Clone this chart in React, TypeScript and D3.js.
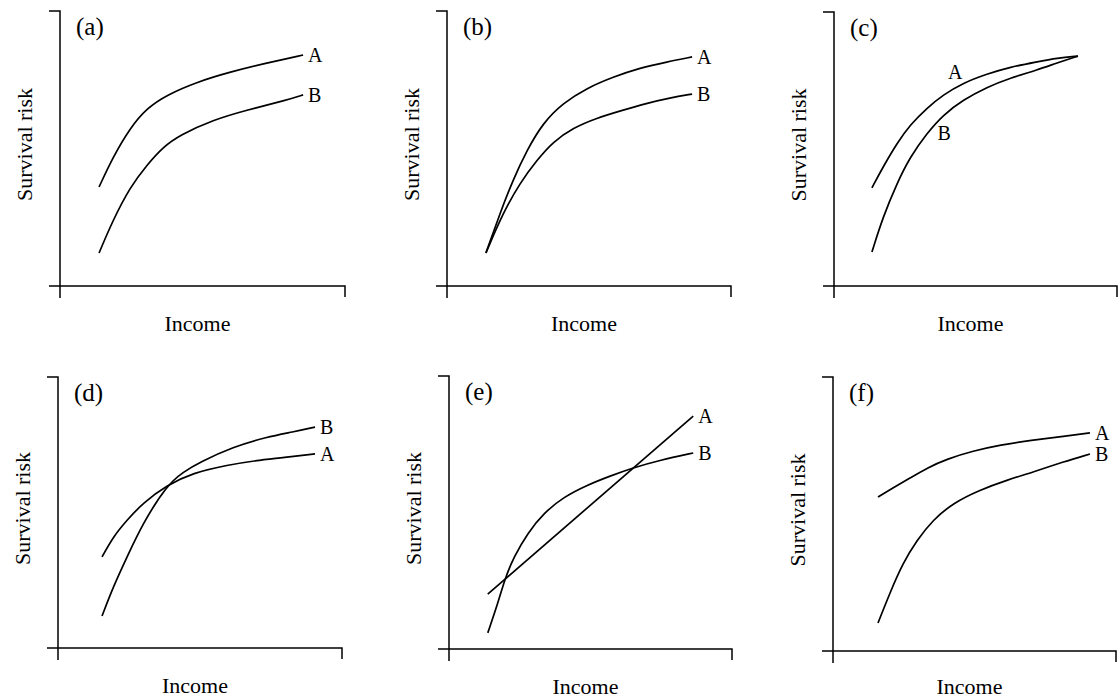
import * as d3 from "d3";

const panelLetters = ["(a)", "(b)", "(c)", "(d)", "(e)", "(f)"];
const seriesNames = ["A", "B"];
const xTitle = "Income";
const yTitle = "Survival risk";

// readings: [income, survival risk], both axes 0..10
const aA = [[1.37, 3.6], [1.86, 4.69], [2.46, 5.75], [3.05, 6.47], [3.75, 6.95], [4.81, 7.42], [5.96, 7.78], [7.26, 8.11], [8.53, 8.4]];
const aB = [[1.37, 1.2], [1.86, 2.4], [2.46, 3.6], [3.05, 4.4], [3.61, 5.05], [4.21, 5.49], [5.37, 6.04], [6.56, 6.4], [7.96, 6.76], [8.53, 6.95]];

const bA = [[1.37, 1.2], [1.87, 2.65], [2.32, 3.85], [2.82, 4.95], [3.38, 5.93], [4.08, 6.65], [4.93, 7.2], [5.85, 7.6], [6.8, 7.93], [7.75, 8.15], [8.63, 8.33]];
const bB = [[1.37, 1.2], [1.97, 2.65], [2.57, 3.75], [3.17, 4.58], [3.73, 5.24], [4.44, 5.75], [5.28, 6.11], [6.09, 6.36], [7.04, 6.65], [7.85, 6.84], [8.63, 6.98]];

const cA = [[1.34, 3.58], [1.73, 4.34], [2.23, 5.22], [2.69, 5.88], [3.29, 6.5], [3.85, 6.97], [4.56, 7.41], [5.41, 7.74], [6.22, 7.99], [7.17, 8.18], [7.88, 8.32], [8.62, 8.39]];
const cB = [[1.34, 1.24], [1.73, 2.52], [2.23, 3.76], [2.69, 4.71], [3.29, 5.58], [3.85, 6.24], [4.56, 6.79], [5.41, 7.26], [6.22, 7.59], [7.17, 7.88], [7.88, 8.14], [8.62, 8.39]];

const dA = [[1.55, 3.36], [1.94, 4.1], [2.43, 4.72], [2.99, 5.35], [3.84, 6.01], [4.75, 6.46], [5.95, 6.75], [7.11, 6.94], [8.17, 7.05], [9.05, 7.16]];
const dB = [[1.55, 1.18], [1.94, 2.25], [2.43, 3.36], [2.99, 4.61], [3.84, 6.01], [4.4, 6.49], [5.0, 6.86], [6.16, 7.42], [7.36, 7.79], [8.27, 7.97], [9.05, 8.15]];

const eA = [[1.37, 2.01], [8.63, 8.53]];
const eB = [[1.37, 0.59], [1.73, 1.68], [1.97, 2.56], [2.29, 3.37], [2.78, 4.25], [3.35, 4.98], [4.05, 5.57], [4.89, 6.01], [5.7, 6.34], [6.48, 6.63], [7.46, 6.92], [8.63, 7.18]];

const fA = [[1.59, 5.62], [2.12, 5.95], [2.72, 6.31], [3.32, 6.68], [4.03, 7.01], [4.95, 7.3], [5.9, 7.52], [7.07, 7.7], [8.27, 7.85], [9.08, 7.96]];
const fB = [[1.59, 1.02], [2.01, 2.12], [2.47, 3.21], [2.97, 4.05], [3.53, 4.78], [4.24, 5.4], [5.19, 5.88], [6.15, 6.24], [7.07, 6.53], [8.13, 6.9], [9.08, 7.19]];

const seriesByPanel = [[aA, aB], [bA, bB], [cA, cB], [dA, dB], [eA, eB], [fA, fB]];

// panel frames in page pixels
const frames = [
  { x0: 60, x1: 345, y0: 286, y1: 11 },
  { x0: 447, x1: 731, y0: 286, y1: 11 },
  { x0: 834, x1: 1117, y0: 286, y1: 12 },
  { x0: 58, x1: 342, y0: 648, y1: 377 },
  { x0: 449, x1: 732, y0: 649, y1: 376 },
  { x0: 833, x1: 1116, y0: 651, y1: 377 },
];

// panel (c) has its labels beside the curves instead of at the ends
const cLabelSpots = [[4.28, 7.81], [3.89, 5.58]];

const font = "'Liberation Serif', 'DejaVu Serif', serif";

const Panel = ({ i }) => {
  const f = frames[i];
  const x = d3.scaleLinear([0, 10], [f.x0, f.x1]);
  const y = d3.scaleLinear([0, 10], [f.y0, f.y1]);
  const line = d3
    .line()
    .x((d) => x(d[0]))
    .y((d) => y(d[1]))
    .curve(d3.curveBasis);
  const tick = 11;
  const txt = { fontFamily: font, fill: "#000" };

  return (
    <g>
      <path
        d={`M${x(0) - tick},${y(10)}H${x(0)}V${y(0) + tick + 1}M${x(0) - tick},${y(0)}H${x(10)}V${y(0) + tick}`}
        fill="none"
        stroke="#000"
        strokeWidth={1.5}
      />
      {seriesByPanel[i].map((s, k) => (
        <path key={k} d={line(s)} fill="none" stroke="#000" strokeWidth={1.7} />
      ))}
      {seriesByPanel[i].map((s, k) => {
        const last = s[s.length - 1];
        const pos =
          i === 2
            ? { x: x(cLabelSpots[k][0]), y: y(cLabelSpots[k][1]), anchor: "middle" }
            : { x: x(last[0]) + 5, y: y(last[1]), anchor: "start" };
        return (
          <text key={k} x={pos.x} y={pos.y} dy="0.35em" textAnchor={pos.anchor} style={{ ...txt, fontSize: 20 }}>
            {seriesNames[k]}
          </text>
        );
      })}
      <text x={x(0) + 16} y={y(10) + 24} style={{ ...txt, fontSize: 25 }}>
        {panelLetters[i]}
      </text>
      <text x={(f.x0 + f.x1) / 2 - 5} y={Math.min(f.y0 + 45, 694)} textAnchor="middle" style={{ ...txt, fontSize: 22 }}>
        {xTitle}
      </text>
      <text
        transform={`translate(${f.x0 - 28},${(f.y0 + f.y1) / 2 - 4}) rotate(-90)`}
        textAnchor="middle"
        style={{ ...txt, fontSize: 22 }}
      >
        {yTitle}
      </text>
    </g>
  );
};

export default function App() {
  return (
    <svg
      width={1119}
      height={699}
      style={{ position: "absolute", left: 0, top: 0, background: "#fff" }}
    >
      {frames.map((_, i) => (
        <Panel key={i} i={i} />
      ))}
    </svg>
  );
}
